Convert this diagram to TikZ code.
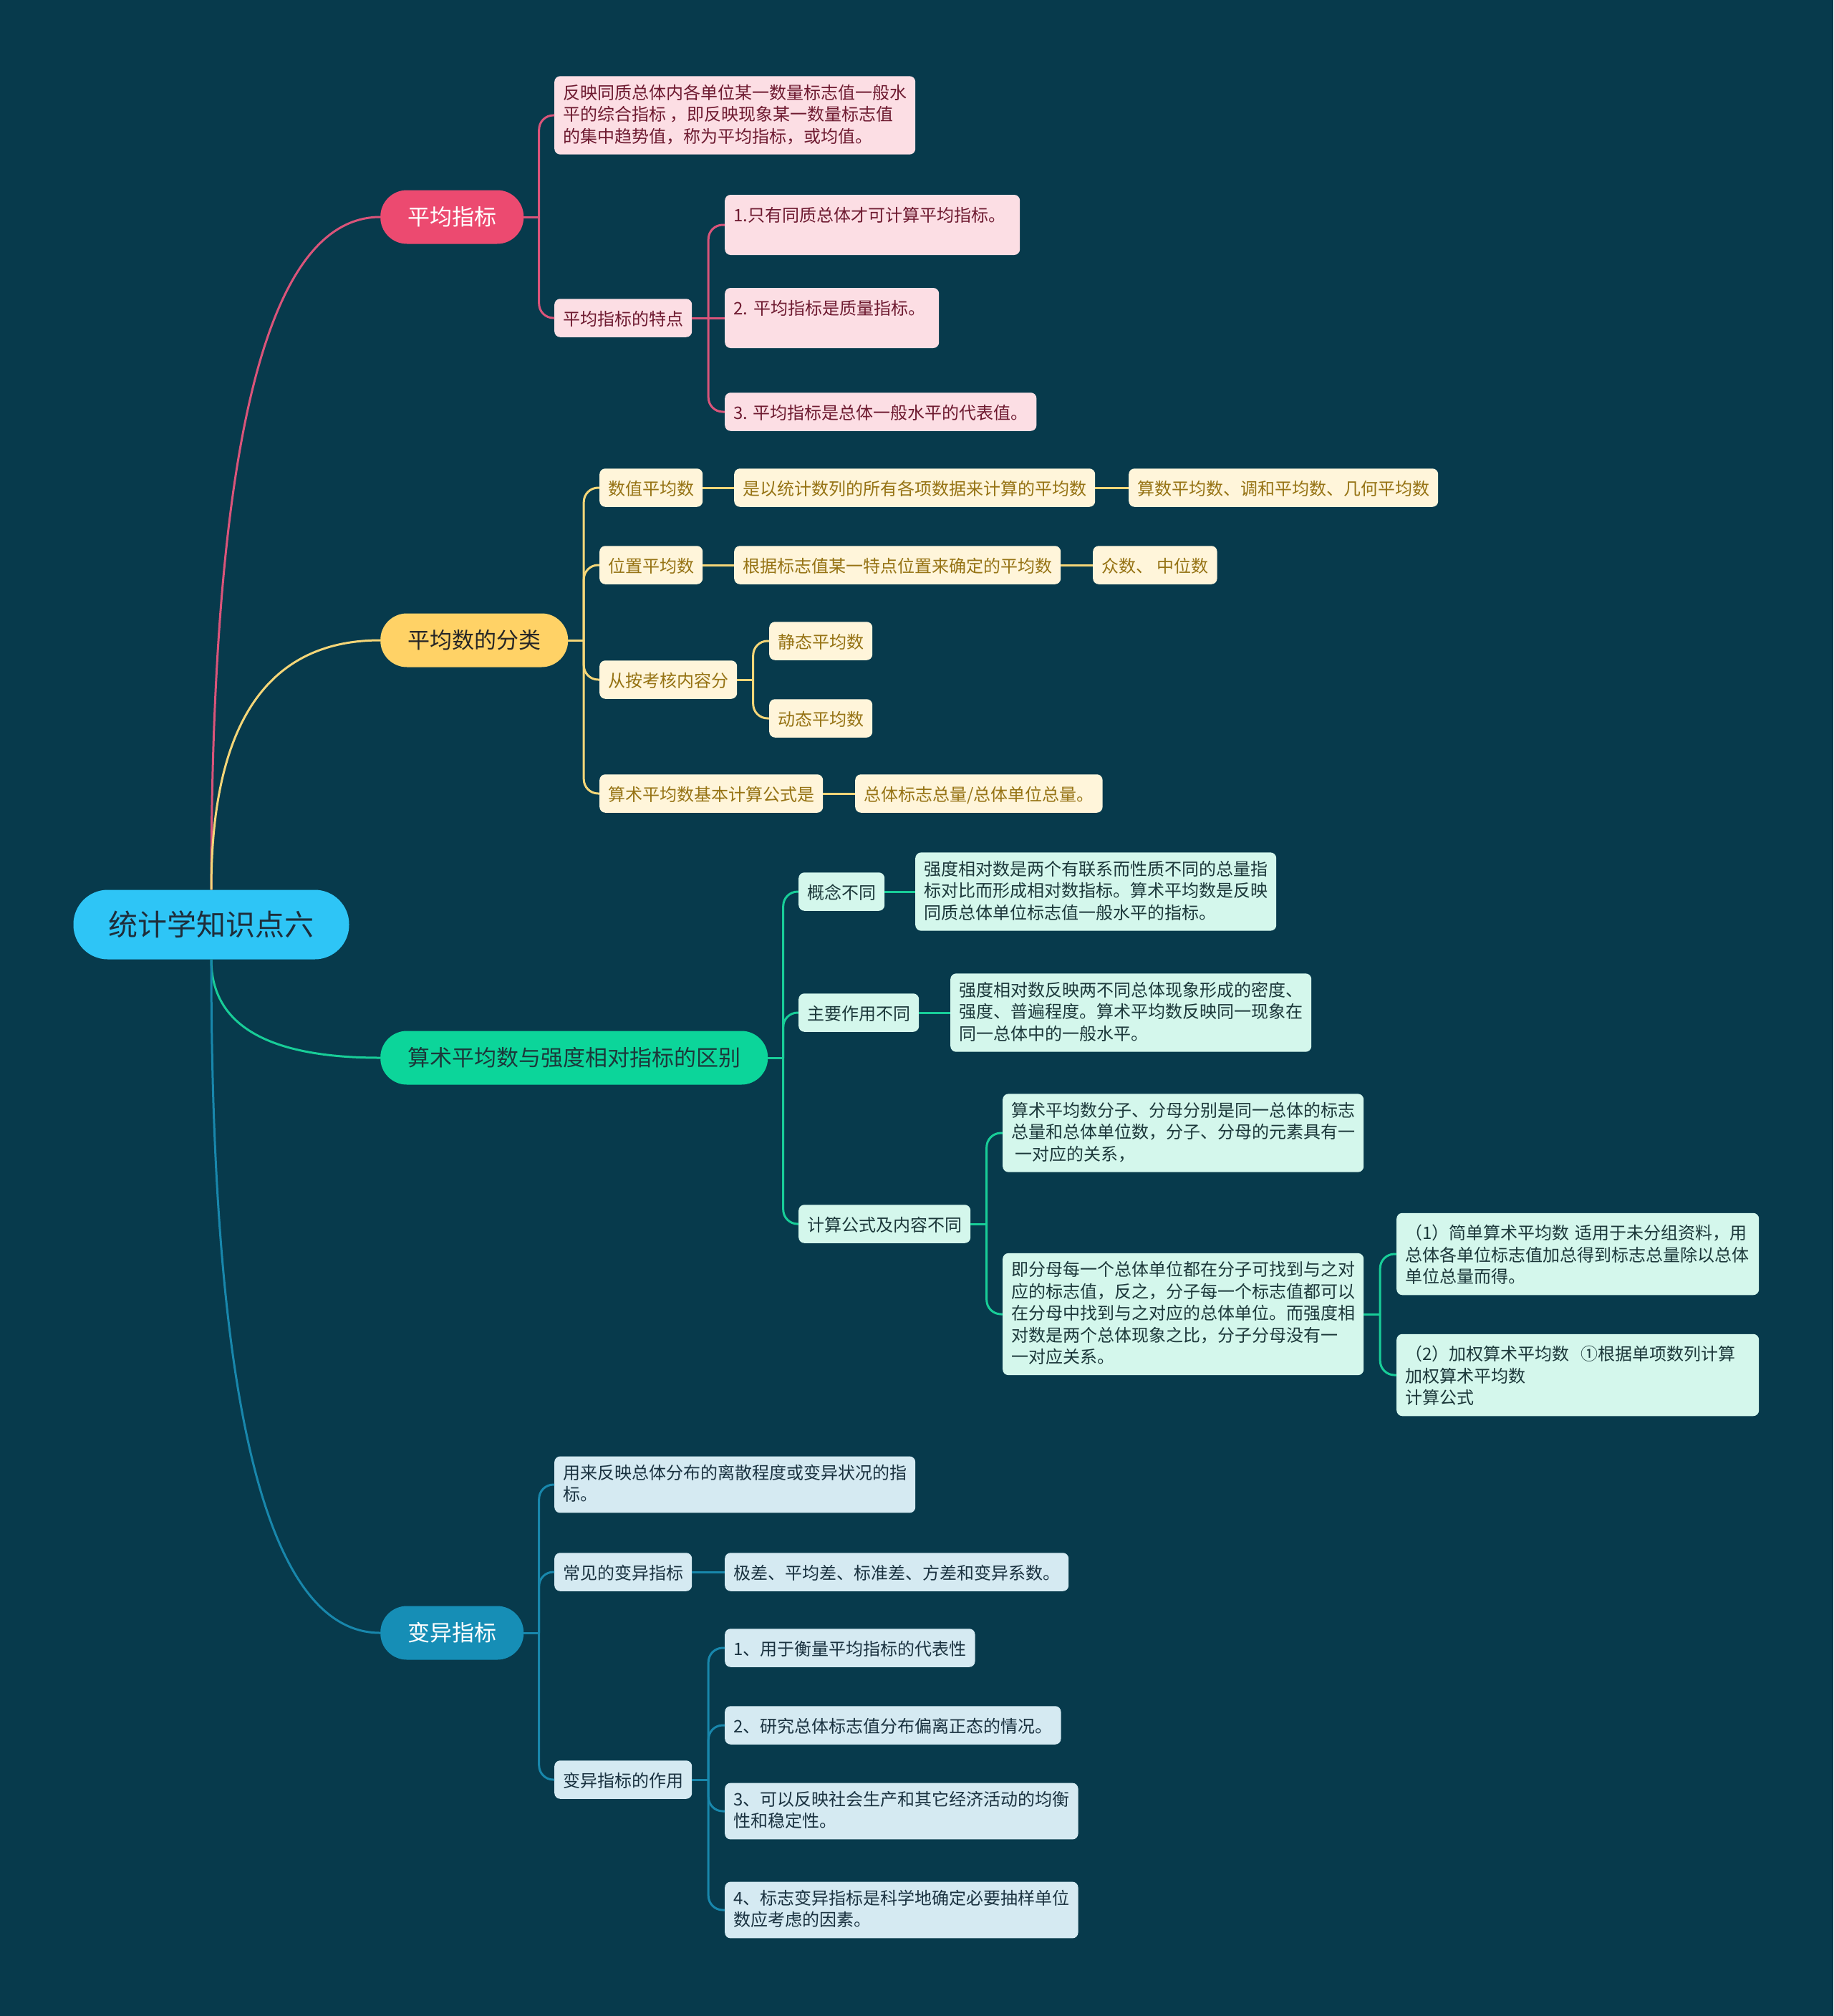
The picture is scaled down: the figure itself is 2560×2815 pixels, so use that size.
\documentclass[tikz,border=0pt]{standalone}
\usepackage{fontspec}
\setmainfont{Noto Sans CJK SC}
\usepackage{tikz}
\usetikzlibrary{positioning,calc}
\usepackage{xcolor}
\definecolor{mapbg}{RGB}{7,58,76}
\definecolor{rootblue}{RGB}{46,197,246}
\definecolor{roottext}{RGB}{30,45,58}
\definecolor{avgpink}{RGB}{236,74,112}
\definecolor{clsyellow}{RGB}{255,210,102}
\definecolor{diffgreen}{RGB}{12,213,154}
\definecolor{varblue}{RGB}{22,142,182}
\definecolor{linkpink}{RGB}{218,84,122}
\definecolor{linkyellow}{RGB}{245,214,120}
\definecolor{linkgreen}{RGB}{24,205,152}
\definecolor{linkblue}{RGB}{24,135,172}
\definecolor{pinkbox}{RGB}{252,222,228}
\definecolor{pinktext}{RGB}{110,26,48}
\definecolor{yellowbox}{RGB}{255,245,218}
\definecolor{yellowtext}{RGB}{150,115,20}
\definecolor{greenbox}{RGB}{212,247,236}
\definecolor{greentext}{RGB}{28,56,58}
\definecolor{bluebox}{RGB}{213,234,242}
\definecolor{bluetext}{RGB}{26,50,64}
\newcommand{\topstrut}{\rule{0pt}{25.5pt}}
\newcommand{\botstrut}{\rule[-5pt]{0pt}{5pt}}

\begin{document}
\begin{tikzpicture}[
    x=1pt, y=-1pt,
    rootnode/.style={rectangle, rounded corners=48pt, fill=rootblue, text=roottext,
        font=\fontsize{41}{49}\selectfont, minimum height=97pt, inner xsep=49pt, inner ysep=0pt},
    topic/.style={rectangle, rounded corners=37pt, minimum height=75pt, inner xsep=38pt,
        inner ysep=0pt, font=\fontsize{31}{37}\selectfont, anchor=west},
    leaf/.style={rectangle, rounded corners=8pt, inner xsep=12pt, inner ysep=11.5pt,
        align=left, anchor=west, font=\fontsize{24}{30.5}\selectfont,
        execute at begin node=\topstrut, execute at end node=\botstrut},
    pinkleaf/.style={leaf, fill=pinkbox, text=pinktext},
    yellowleaf/.style={leaf, fill=yellowbox, text=yellowtext},
    greenleaf/.style={leaf, fill=greenbox, text=greentext},
    blueleaf/.style={leaf, fill=bluebox, text=bluetext},
    link/.style={line width=3pt},
    fork/.style={line width=3pt, rounded corners=20pt}
]
\fill[mapbg] (0,0) rectangle (2560,2815);
\useasboundingbox (0,0) rectangle (2560,2815);

% root and main topics
\node[rootnode] (root) at (295,1291) {统计学知识点六};
\node[topic, fill=avgpink, text=white] (avg) at (531,303) {平均指标};
\node[topic, fill=clsyellow, text=black!85] (cls) at (531,894) {平均数的分类};
\node[topic, fill=diffgreen, text=greentext] (diff) at (531,1477) {算术平均数与强度相对指标的区别};
\node[topic, fill=varblue, text=white] (var) at (531,2280) {变异指标};

% 平均指标
\node[pinkleaf] (a1) at (774,161) {反映同质总体内各单位某一数量标志值一般水\\平的综合指标 ，即反映现象某一数量标志值\\的集中趋势值，称为平均指标，或均值。};
\node[pinkleaf] (a2) at (774,444) {平均指标的特点};
\node[pinkleaf, text width=388pt] (a21) at (1012,314) {1.只有同质总体才可计算平均指标。\\};
\node[pinkleaf, text width=275pt] (a22) at (1012,444) {2.~平均指标是质量指标。\\};
\node[pinkleaf] (a23) at (1012,575) {3. 平均指标是总体一般水平的代表值。};

% 平均数的分类
\node[yellowleaf] (b1) at (837,681) {数值平均数};
\node[yellowleaf] (b11) at (1025,681) {是以统计数列的所有各项数据来计算的平均数};
\node[yellowleaf] (b111) at (1576,681) {算数平均数、调和平均数、几何平均数};
\node[yellowleaf] (b2) at (837,789) {位置平均数};
\node[yellowleaf] (b21) at (1025,789) {根据标志值某一特点位置来确定的平均数};
\node[yellowleaf] (b211) at (1526,789) {众数、 中位数};
\node[yellowleaf] (b3) at (837,949) {从按考核内容分};
\node[yellowleaf] (b31) at (1074,895) {静态平均数};
\node[yellowleaf] (b32) at (1074,1003) {动态平均数};
\node[yellowleaf] (b4) at (837,1108) {算术平均数基本计算公式是};
\node[yellowleaf] (b41) at (1194,1108) {总体标志总量/总体单位总量。};

% 算术平均数与强度相对指标的区别
\node[greenleaf] (c1) at (1115,1245) {概念不同};
\node[greenleaf] (c11) at (1278,1245) {强度相对数是两个有联系而性质不同的总量指\\标对比而形成相对数指标。算术平均数是反映\\同质总体单位标志值一般水平的指标。};
\node[greenleaf] (c2) at (1115,1414) {主要作用不同};
\node[greenleaf] (c21) at (1327,1414) {强度相对数反映两不同总体现象形成的密度、\\强度、普遍程度。算术平均数反映同一现象在\\同一总体中的一般水平。};
\node[greenleaf] (c3) at (1115,1709) {计算公式及内容不同};
\node[greenleaf] (c31) at (1400,1582) {算术平均数分子、分母分别是同一总体的标志\\总量和总体单位数，分子、分母的元素具有一\\~一对应的关系，};
\node[greenleaf] (c32) at (1400,1835) {即分母每一个总体单位都在分子可找到与之对\\应的标志值，反之，分子每一个标志值都可以\\在分母中找到与之对应的总体单位。而强度相\\对数是两个总体现象之比，分子分母没有一\\一对应关系。};
\node[greenleaf, text width=482pt] (c321) at (1950,1751) {（1）简单算术平均数~适用于未分组资料，用\\总体各单位标志值加总得到标志总量除以总体\\单位总量而得。};
\node[greenleaf, text width=482pt] (c322) at (1950,1920) {（2）加权算术平均数~~①根据单项数列计算\\加权算术平均数\\计算公式};

% 变异指标
\node[blueleaf] (d1) at (774,2073) {用来反映总体分布的离散程度或变异状况的指\\标。};
\node[blueleaf] (d2) at (774,2195) {常见的变异指标};
\node[blueleaf] (d21) at (1012,2195) {极差、平均差、标准差、方差和变异系数。};
\node[blueleaf] (d3) at (774,2485) {变异指标的作用};
\node[blueleaf] (d31) at (1012,2301) {1、用于衡量平均指标的代表性};
\node[blueleaf] (d32) at (1012,2409) {2、研究总体标志值分布偏离正态的情况。};
\node[blueleaf] (d33) at (1012,2529) {3、可以反映社会生产和其它经济活动的均衡\\性和稳定性。};
\node[blueleaf] (d34) at (1012,2667) {4、标志变异指标是科学地确定必要抽样单位\\数应考虑的因素。};

% root to topics
\draw[link, draw=linkpink] (root.north) .. controls ($(root.north)!0.667!(root.north |- avg.west)$) and ($(avg.west)!0.667!(root.north |- avg.west)$) .. (avg.west);
\draw[link, draw=linkyellow] (root.north) .. controls ($(root.north)!0.667!(root.north |- cls.west)$) and ($(cls.west)!0.667!(root.north |- cls.west)$) .. (cls.west);
\draw[link, draw=linkgreen] (root.south) .. controls ($(root.south)!0.667!(root.south |- diff.west)$) and ($(diff.west)!0.667!(root.south |- diff.west)$) .. (diff.west);
\draw[link, draw=linkblue] (root.south) .. controls ($(root.south)!0.667!(root.south |- var.west)$) and ($(var.west)!0.667!(root.south |- var.west)$) .. (var.west);

% forks
\foreach \p/\c/\col in {avg/a1/linkpink, avg/a2/linkpink, a2/a21/linkpink, a2/a23/linkpink,
    cls/b1/linkyellow, cls/b2/linkyellow, cls/b3/linkyellow, cls/b4/linkyellow,
    b3/b31/linkyellow, b3/b32/linkyellow,
    diff/c1/linkgreen, diff/c2/linkgreen, diff/c3/linkgreen, c3/c31/linkgreen,
    c3/c32/linkgreen, c32/c321/linkgreen, c32/c322/linkgreen,
    var/d1/linkblue, var/d2/linkblue, var/d3/linkblue, d3/d31/linkblue,
    d3/d32/linkblue, d3/d33/linkblue, d3/d34/linkblue}{
  \coordinate (m) at ($(\p.east)!0.5!(\c.west |- \p.east)$);
  \draw[link, draw=\col] (\p.east) -- (m);
  \draw[fork, draw=\col] (m) |- (\c.west);
}

% same row
\foreach \p/\c/\col in {a2/a22/linkpink, b1/b11/linkyellow, b11/b111/linkyellow,
    b2/b21/linkyellow, b21/b211/linkyellow, b4/b41/linkyellow,
    c1/c11/linkgreen, c2/c21/linkgreen, d2/d21/linkblue}
  \draw[link, draw=\col] (\p.east) -- (\c.west);
\end{tikzpicture}
\end{document}
